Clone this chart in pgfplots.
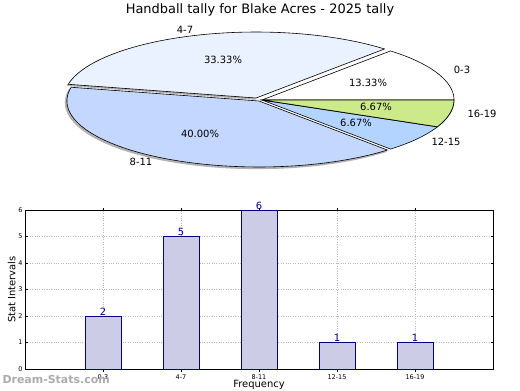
\documentclass[border=0pt]{standalone}
\usepackage{pgfplots}
\pgfplotsset{compat=1.18}
\usepackage{fontspec}
\setmainfont{DejaVu Sans}
\definecolor{cA}{RGB}{255,255,255}
\definecolor{cB}{RGB}{235,242,255}
\definecolor{cC}{RGB}{195,215,255}
\definecolor{cD}{RGB}{179,212,255}
\definecolor{cE}{RGB}{204,234,138}
\definecolor{barfill}{RGB}{204,204,230}
\definecolor{navy}{RGB}{0,0,128}
\begin{document}
\begin{tikzpicture}[x=1bp,y=1bp]
\clip (0,0) rectangle (520,390);
\fill[white] (0,0) rectangle (520,390);
% ---------- pie (counts 2,5,6,1,1 of 15 -> 48,120,144,24,24 degrees) ----------
\begin{axis}[at={(262bp,290bp)},anchor=center,scale only axis,width=384bp,height=132bp,
  xmin=-1,xmax=1,ymin=-1,ymax=1,hide axis,clip=false]
% shadows
\addplot[fill=gray!60,draw=gray!60,line width=1.0pt,domain=168:312,samples=80,variable=\t]
  ({cos(t)-0.024},{sin(t)-0.04}) -- (axis cs:-0.024,-0.04) -- cycle;
\addplot[fill=gray!60,draw=gray!60,line width=0.8pt,domain=90:168,samples=60,variable=\t]
  ({cos(t)-0.036},{sin(t)+0.01}) -- (axis cs:-0.036,0.01) -- cycle;
% slices
\addplot[fill=cA,draw=black,line width=0.6pt,domain=0:48,samples=60,variable=\t]
  ({cos(t)},{sin(t)}) -- (axis cs:0,0) -- cycle;
\addplot[fill=cB,draw=black,line width=0.6pt,domain=48:168,samples=80,variable=\t]
  ({cos(t)-0.031},{sin(t)+0.03}) -- (axis cs:-0.031,0.03) -- cycle;
\addplot[fill=cC,draw=black,line width=0.6pt,domain=168:312,samples=80,variable=\t]
  ({cos(t)-0.016},{sin(t)-0.015}) -- (axis cs:-0.016,-0.015) -- cycle;
\addplot[fill=cD,draw=black,line width=0.6pt,domain=312:336,samples=30,variable=\t]
  ({cos(t)},{sin(t)}) -- (axis cs:0,0) -- cycle;
\addplot[fill=cE,draw=black,line width=0.8pt,domain=336:360,samples=30,variable=\t]
  ({cos(t)},{sin(t)}) -- (axis cs:0,0) -- cycle;
\end{axis}
\node[font=\fontsize{13}{15}\selectfont] at (260,380) {Handball tally for Blake Acres - 2025 tally};
\begin{scope}[font=\fontsize{10}{12}\selectfont]
\node at (185,360) {4-7};
\node at (223,330) {33.33\%};
\node at (462,320) {0-3};
\node at (368,307) {13.33\%};
\node at (376,283) {6.67\%};
\node at (482,276) {16-19};
\node at (356,267) {6.67\%};
\node at (446,248) {12-15};
\node at (200,256) {40.00\%};
\node at (141,228) {8-11};
\end{scope}
% ---------- bars ----------
\begin{axis}[at={(25bp,21bp)},anchor=south west,scale only axis,width=468bp,height=159bp,
  xmin=-1,xmax=5,ymin=0,ymax=6,
  xtick={0,1,2,3,4},xticklabels={0-3,4-7,8-11,12-15,16-19},
  ytick={0,1,2,3,4,5,6},
  grid=major,grid style={dotted,gray!55,line width=0.8pt},
  tick style={black,line width=0.4pt},major tick length=2.5bp,
  tick align=inside,
  ticklabel style={font=\fontsize{6.5}{7}\selectfont},
  /pgf/number format/assume math mode=true,
  xlabel={Frequency},ylabel={Stat Intervals},
  label style={font=\fontsize{10}{12}\selectfont},
  xlabel style={yshift=6.5bp},ylabel style={yshift=-4bp},
  xticklabel style={yshift=0.5bp},yticklabel style={xshift=1bp},
  axis line style={black,line width=0.7pt},
  ybar,bar width=36bp,
  nodes near coords,
  every node near coord/.append style={font=\fontsize{10}{11}\selectfont,text=navy,inner sep=0.3pt},
  clip=false]
\addplot[fill=barfill,draw=navy,line width=0.7pt] coordinates {(0,2) (1,5) (2,6) (3,1) (4,1)};
\end{axis}
\node[font=\bfseries\fontsize{11}{13}\selectfont,text=gray!65,anchor=west] at (-1,10) {Dream-Stats.com};
\end{tikzpicture}
\end{document}
